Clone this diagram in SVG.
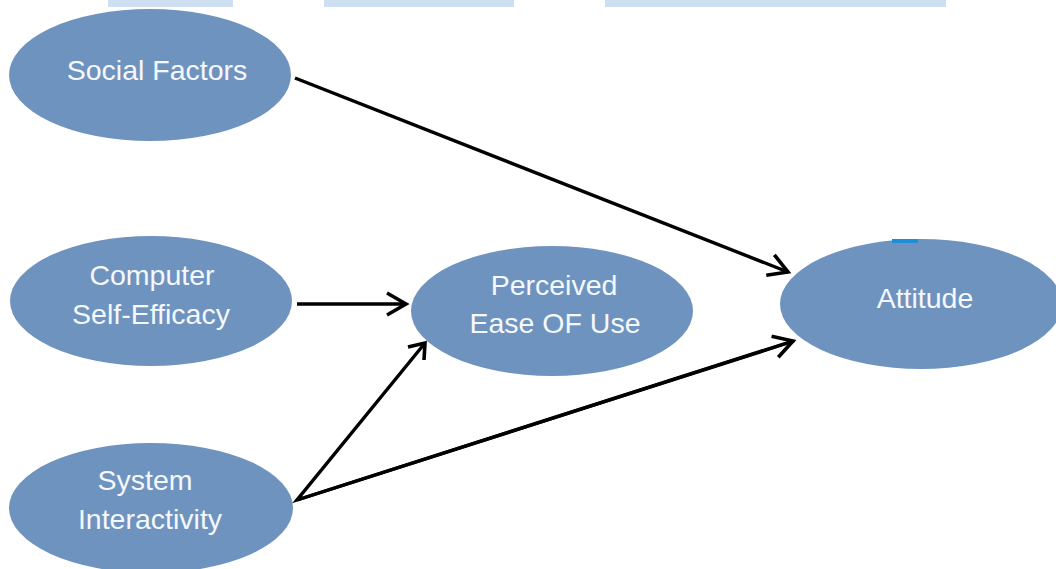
<svg xmlns="http://www.w3.org/2000/svg" width="1056" height="569" viewBox="0 0 1056 569">
<defs>
<style>
.node{fill:#6f93bf;}
.lbl{font-family:"Liberation Sans",Arial,sans-serif;font-size:28.5px;fill:#f5f8fc;text-anchor:middle;}
.conn{stroke:#000;stroke-width:3.4;fill:none;}
.bar{fill:#cddff0;}
</style>
<marker id="arr" markerUnits="userSpaceOnUse" markerWidth="30" markerHeight="30" viewBox="-22 -15 30 30" refX="0" refY="0" orient="auto">
<path d="M-19,-11 L0,0 L-19,11" fill="none" stroke="#000" stroke-width="3.6" stroke-linejoin="miter"/>
</marker>
</defs>
<rect width="1056" height="569" fill="#fff"/>
<g id="bars">
<rect class="bar" x="108" y="0" width="125" height="7"/>
<rect class="bar" x="324" y="0" width="190" height="7"/>
<rect class="bar" x="605" y="0" width="341" height="7"/>
</g>
<g id="social-factors">
<ellipse class="node" cx="150" cy="75" rx="141" ry="66"/>
<text class="lbl" x="157" y="80">Social Factors</text>
</g>
<g id="computer-self-efficacy">
<ellipse class="node" cx="151" cy="301" rx="141" ry="65"/>
<text class="lbl" x="152" y="285">Computer</text>
<text class="lbl" x="151" y="324">Self-Efficacy</text>
</g>
<g id="perceived-ease-of-use">
<ellipse class="node" cx="552" cy="311" rx="141" ry="65"/>
<text class="lbl" x="554" y="295">Perceived</text>
<text class="lbl" x="555" y="333">Ease OF Use</text>
</g>
<g id="attitude">
<ellipse class="node" cx="921" cy="304" rx="141" ry="65"/>
<rect x="892" y="239" width="26" height="4" fill="#1e8fd6"/>
<text class="lbl" x="925" y="308">Attitude</text>
</g>
<g id="system-interactivity">
<ellipse class="node" cx="151" cy="508" rx="142" ry="65"/>
<text class="lbl" x="145" y="490">System</text>
<text class="lbl" x="150" y="529">Interactivity</text>
</g>
<g id="connectors">
<line class="conn" x1="295" y1="78" x2="788" y2="272" marker-end="url(#arr)"/>
<line class="conn" x1="297" y1="304" x2="406" y2="304" marker-end="url(#arr)"/>
<polyline class="conn" points="425,343 297,500 794,341"/>
<path d="M408,347 L425,343 L424,360" fill="none" stroke="#000" stroke-width="3.6"/>
<line class="conn" x1="297" y1="500" x2="793" y2="341" marker-end="url(#arr)"/>
</g>
</svg>
